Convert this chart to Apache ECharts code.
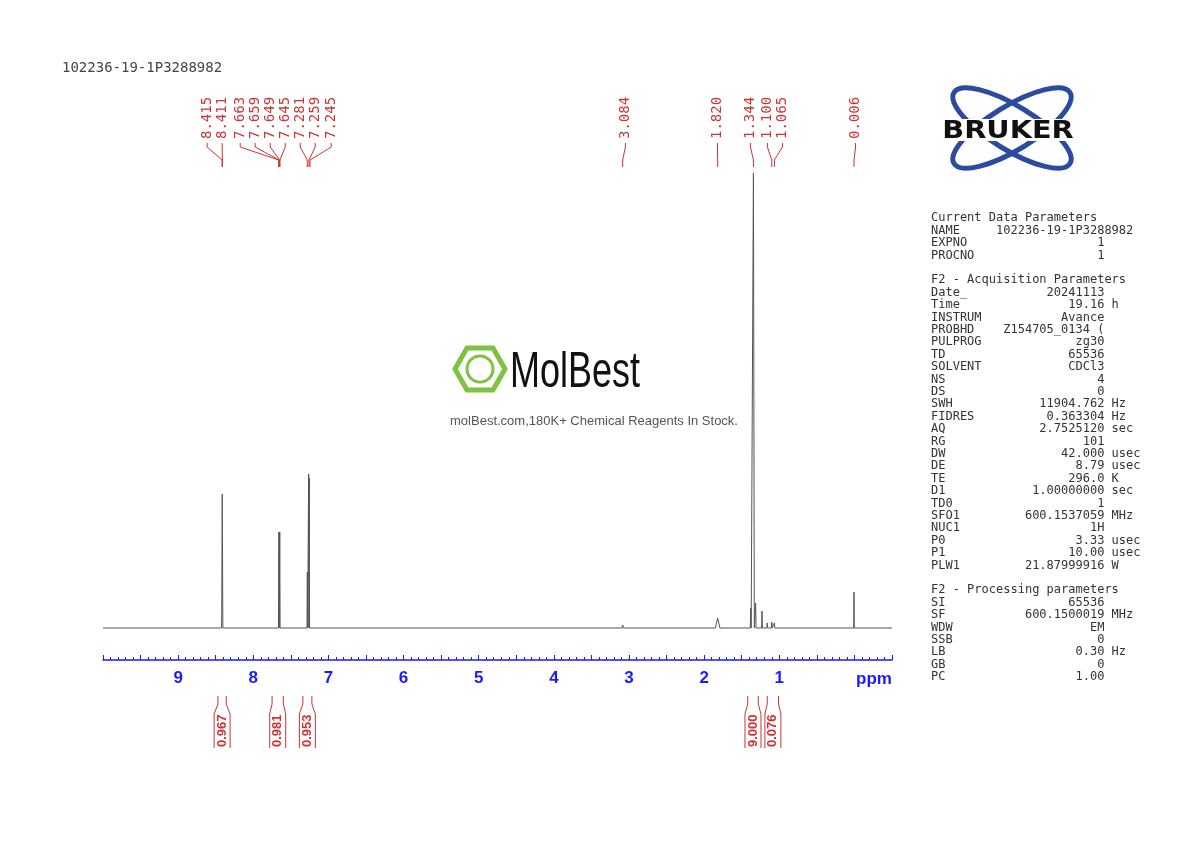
<!DOCTYPE html>
<html><head><meta charset="utf-8">
<script src="https://cdn.jsdelivr.net/npm/echarts@6/dist/echarts.min.js"></script>
<style>html,body{margin:0;background:#fff}#chart{width:1190px;height:842px}</style>
</head><body><div id="chart"></div>
<script>
// spectrum peaks (ppm, height above baseline, half width)
var peakPpm    = [8.413, 7.660, 7.648, 7.281, 7.263, 7.255, 3.084, 1.820, 1.380, 1.344, 1.315, 1.230, 1.160, 1.100, 1.065, 0.006];
var peakHeight = [134,   96,    96,    56,    154,   150,   3,     10,    20,    455,   25,    17,    5,     6,     5,     36];
var peakWidth  = [0.008, 0.005, 0.005, 0.004, 0.004, 0.004, 0.010, 0.030, 0.006, 0.012, 0.006, 0.005, 0.005, 0.005, 0.005, 0.004];

// peak pick labels: text, peak ppm, label position (ppm)
var pickText = ['8.415','8.411','7.663','7.659','7.649','7.645','7.281','7.259','7.245','3.084','1.820','1.344','1.100','1.065','0.006'];
var pickPpm  = [8.415, 8.411, 7.663, 7.659, 7.649, 7.645, 7.281, 7.259, 7.245, 3.084, 1.820, 1.344, 1.100, 1.065, 0.006];
var pickPos  = [8.614, 8.414, 8.174, 7.975, 7.775, 7.575, 7.376, 7.176, 6.963, 3.048, 1.823, 1.384, 1.158, 0.958, -0.015];

// integrals: from, to, value
var intFrom  = [8.47, 7.75, 7.34, 1.42, 1.16];
var intTo    = [8.36, 7.60, 7.22, 1.28, 1.01];
var intValue = ['0.967', '0.981', '0.953', '9.000', '0.076'];

var axisLabels = [1, 2, 3, 4, 5, 6, 7, 8, 9];

var spec = [[10, 0]];
var pts = [];
for (var i = 0; i < peakPpm.length; i++) {
    pts.push([peakPpm[i] + peakWidth[i], 0], [peakPpm[i], peakHeight[i]], [peakPpm[i] - peakWidth[i], 0]);
}
pts.sort(function (a, b) { return b[0] - a[0]; });
spec = spec.concat(pts);
spec.push([-0.5, 0]);

var red = '#cc3333';
var mono = '"DejaVu Sans Mono", monospace';

function param(n, v, u) {
    var s = n;
    while ((s + v).length < 24) s += ' ';
    return s + v + (u ? ' ' + u : '');
}
var paramLines = [
    'Current Data Parameters',
    'NAME     102236-19-1P3288982',
    param('EXPNO', '1'),
    param('PROCNO', '1'),
    '',
    'F2 - Acquisition Parameters',
    param('Date_', '20241113'),
    param('Time', '19.16', 'h'),
    param('INSTRUM', 'Avance'),
    param('PROBHD', 'Z154705_0134 ('),
    param('PULPROG', 'zg30'),
    param('TD', '65536'),
    param('SOLVENT', 'CDCl3'),
    param('NS', '4'),
    param('DS', '0'),
    param('SWH', '11904.762', 'Hz'),
    param('FIDRES', '0.363304', 'Hz'),
    param('AQ', '2.7525120', 'sec'),
    param('RG', '101'),
    param('DW', '42.000', 'usec'),
    param('DE', '8.79', 'usec'),
    param('TE', '296.0', 'K'),
    param('D1', '1.00000000', 'sec'),
    param('TD0', '1'),
    param('SFO1', '600.1537059', 'MHz'),
    param('NUC1', '1H'),
    param('P0', '3.33', 'usec'),
    param('P1', '10.00', 'usec'),
    param('PLW1', '21.87999916', 'W'),
    '',
    'F2 - Processing parameters',
    param('SI', '65536'),
    param('SF', '600.1500019', 'MHz'),
    param('WDW', 'EM'),
    param('SSB', '0'),
    param('LB', '0.30', 'Hz'),
    param('GB', '0'),
    param('PC', '1.00')
];

var chart = echarts.init(document.getElementById('chart'));
var xBase = {min: -0.5, max: 10, inverse: true, type: 'value'};
var hiddenX = Object.assign({}, xBase, {show: false});
var hiddenY = {type: 'value', show: false, min: 0, max: 1};
var narrow = '"Liberation Sans", Arial';

chart.setOption({
    animation: false,
    grid: [
        {left: 103, right: 298, top: 173, bottom: 182},
        {left: 103, right: 298, top: 85, height: 85},
        {left: 103, right: 298, top: 690, height: 60}
    ],
    xAxis: [
        Object.assign({}, xBase, {
            gridIndex: 0, interval: 0.5,
            axisLine: {onZero: false, lineStyle: {color: '#1a1aff', width: 1.5}},
            axisTick: {inside: true, length: 5, lineStyle: {color: '#1a1aff'}},
            minorTick: {show: true, splitNumber: 5, length: 3, lineStyle: {color: '#1a1aff'}},
            splitLine: {show: false},
            axisLabel: {
                color: '#1a1aff', fontWeight: 'bold', fontSize: 17, fontFamily: narrow,
                margin: 10,
                formatter: function (v) { return axisLabels.indexOf(v) >= 0 ? String(v) : ''; }
            }
        }),
        Object.assign({}, hiddenX, {gridIndex: 1}),
        Object.assign({}, hiddenX, {gridIndex: 2})
    ],
    yAxis: [
        {type: 'value', gridIndex: 0, min: -32, max: 455, show: false},
        Object.assign({}, hiddenY, {gridIndex: 1}),
        Object.assign({}, hiddenY, {gridIndex: 2})
    ],
    series: [
        {
            type: 'line', xAxisIndex: 0, yAxisIndex: 0, data: spec, showSymbol: false,
            lineStyle: {color: '#555', width: 1}
        },
        {
            type: 'custom', xAxisIndex: 1, yAxisIndex: 1,
            data: pickText.map(function (t, i) { return [pickPpm[i], pickPos[i], t]; }),
            renderItem: function (params, api) {
                var px = api.coord([api.value(0), 0])[0];
                var lx = api.coord([api.value(1), 0])[0];
                return {
                    type: 'group',
                    children: [
                        {type: 'text', x: lx, y: 139, rotation: Math.PI / 2,
                            style: {text: pickText[params.dataIndex], fill: red, font: '14px ' + mono,
                                textAlign: 'left', textVerticalAlign: 'middle'}},
                        {type: 'polyline', shape: {points: [[lx, 143], [lx, 147], [px, 160], [px, 167]]},
                            style: {stroke: red, lineWidth: 1, fill: null}}
                    ]
                };
            }
        },
        {
            type: 'custom', xAxisIndex: 2, yAxisIndex: 2,
            data: intValue.map(function (v, i) { return [intFrom[i], intTo[i], v]; }),
            renderItem: function (params, api) {
                var x1 = api.coord([api.value(0), 0])[0];
                var x2 = api.coord([api.value(1), 0])[0];
                var c = (x1 + x2) / 2;
                return {
                    type: 'group',
                    children: [
                        {type: 'polyline', shape: {points: [[x1, 696], [x1, 704], [c - 8, 714], [c - 8, 748]]},
                            style: {stroke: red, lineWidth: 1, fill: null}},
                        {type: 'polyline', shape: {points: [[x2, 696], [x2, 704], [c + 8, 714], [c + 8, 748]]},
                            style: {stroke: red, lineWidth: 1, fill: null}},
                        {type: 'text', x: c, y: 747, rotation: Math.PI / 2,
                            style: {text: intValue[params.dataIndex], fill: red,
                                font: 'bold 13px ' + narrow,
                                textAlign: 'left', textVerticalAlign: 'middle'}}
                    ]
                };
            }
        }
    ],
    graphic: [
        {type: 'text', left: 62, top: 61, style: {text: '102236-19-1P3288982', fill: '#444', font: '14px ' + mono}},
        {type: 'text', left: 856, top: 671, style: {text: 'ppm', fill: '#1a1aff', font: 'bold 17px ' + narrow}},
        {type: 'text', left: 931, top: 212, style: {text: paramLines.join('\n'), fill: '#333',
            font: '12px ' + mono, lineHeight: 12.4}},
        // Bruker logo
        {type: 'ellipse', x: 1012, y: 128, rotation: 0.55, shape: {cx: 0, cy: 0, rx: 68, ry: 22},
            style: {stroke: '#2b4aa0', lineWidth: 5, fill: null}},
        {type: 'ellipse', x: 1012, y: 128, rotation: -0.55, shape: {cx: 0, cy: 0, rx: 68, ry: 22},
            style: {stroke: '#2b4aa0', lineWidth: 5, fill: null}},
        {type: 'rect', shape: {x: 928, y: 119, width: 162, height: 22}, style: {fill: '#fff'}},
        {type: 'text', x: 1008, y: 131, scaleX: 1.15, style: {text: 'BRUKER', fill: '#111', textAlign: 'center',
            textVerticalAlign: 'middle', font: '900 25px "DejaVu Sans", Arial'}},
        // MolBest watermark
        {type: 'polygon', shape: {points: [[455, 369], [467, 348], [493, 348], [505, 369], [493, 390], [467, 390]]},
            style: {stroke: '#7fc241', lineWidth: 5, fill: null}},
        {type: 'circle', shape: {cx: 480, cy: 369, r: 13}, style: {stroke: '#7fc241', lineWidth: 3, fill: null}},
        {type: 'text', x: 510, y: 348, scaleX: 0.72, style: {text: 'MolBest', fill: '#111',
            font: '50px ' + narrow}},
        {type: 'text', x: 594, y: 421, style: {text: 'molBest.com,180K+ Chemical Reagents In Stock.', fill: '#555',
            textAlign: 'center', textVerticalAlign: 'middle', font: '13px ' + narrow}}
    ]
});
</script>
</body></html>
